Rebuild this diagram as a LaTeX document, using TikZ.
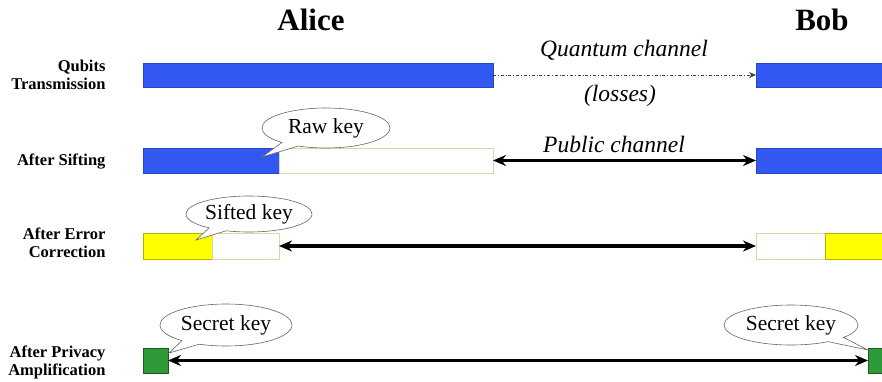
\documentclass[tikz,border=0pt]{standalone}
\usepackage{fontspec}
\setmainfont{LiberationSerif}[Extension=.ttf,UprightFont=*-Regular,BoldFont=*-Bold,ItalicFont=*-Italic,BoldItalicFont=*-BoldItalic]
\usetikzlibrary{shapes.callouts,arrows.meta}

\definecolor{keyblue}{HTML}{3358F2}
\definecolor{keyyellow}{HTML}{FFFF00}
\definecolor{keygreen}{HTML}{2E9A3A}
\definecolor{emptyedge}{HTML}{D2DBA6}

\begin{document}
\begin{tikzpicture}[x=1pt,y=-1pt,
  block/.style={anchor=north west,inner sep=0pt,outer sep=0pt,line width=0.7pt},
  bluebar/.style={block,fill=keyblue,draw=keyblue!80!black,minimum height=24pt},
  emptybar/.style={block,fill=white,draw=emptyedge,minimum height=#1},
  yellowbar/.style={block,fill=keyyellow,draw=keyyellow!70!black,minimum height=26pt},
  greenbox/.style={block,fill=keygreen,draw=keygreen!60!black,minimum width=25pt,minimum height=25pt},
  public/.style={line width=3.2pt,{Stealth[length=13pt,width=11pt]}-{Stealth[length=13pt,width=11pt]}},
  quantum/.style={line width=0.7pt,draw=black!75,dash dot,-{Stealth[length=7pt,width=6pt]}},
  rowlabel/.style={anchor=east,align=right,font=\fontsize{16.5}{18}\selectfont\bfseries},
  party/.style={font=\fontsize{31}{36}\selectfont\bfseries},
  chan/.style={font=\fontsize{23.5}{26}\selectfont\itshape},
  keycallout/.style={ellipse callout,draw=black!60,fill=white,line width=0.6pt,
    inner sep=0pt,font=\fontsize{21.5}{24}\selectfont,callout pointer arc=18}]

\useasboundingbox (0,0) rectangle (882,381);
\clip (0,0) rectangle (882,381);

% party names
\node[party] (alice) at (311,20) {Alice};
\node[party] (bob) at (822,20) {Bob};

% stage labels
\node[rowlabel] (l1) at (109,75) {Qubits\\Transmission};
\node[rowlabel] (l2) at (109,162) {After Sifting};
\node[rowlabel] (l3) at (109,243) {After Error\\Correction};
\node[rowlabel] (l4) at (109,362) {After Privacy\\Amplification};

% qubit transmission
\node[bluebar,minimum width=350pt] (a1) at (143,63) {};
\node[bluebar,minimum width=140pt] (b1) at (756,63) {};
\draw[quantum] (a1.east) -- (b1.west);
\node[chan] (qc) at (624,50) {Quantum channel};
\node[chan] (ql) at (620,96) {(losses)};

% sifting
\node[bluebar,minimum width=136pt,minimum height=25pt] (a2k) at (143,148) {};
\node[emptybar=25pt,minimum width=214pt] (a2) at (279,148) {};
\node[bluebar,minimum width=140pt,minimum height=25pt] (b2) at (756,148) {};
\draw[public] (a2.east) -- (b2.west);
\node[chan] (pc) at (614,144) {Public channel};

% error correction
\node[yellowbar,minimum width=69pt] (a3k) at (143,233) {};
\node[emptybar=26pt,minimum width=67pt] (a3) at (212,233) {};
\node[emptybar=26pt,minimum width=69pt] (b3) at (756,233) {};
\node[yellowbar,minimum width=80pt] (b3k) at (825,233) {};
\draw[public] (a3.east) -- (b3.west);

% privacy amplification
\node[greenbox] (a4) at (143,348) {};
\node[greenbox] (b4) at (868,348) {};
\draw[public] (a4.east) -- (b4.west);

% key callouts
\node[keycallout,minimum width=128pt,minimum height=40pt,
  callout absolute pointer={(262,157)}] (raw) at (326,128) {Raw key};
\node[keycallout,minimum width=126pt,minimum height=36pt,
  callout absolute pointer={(196,240)}] (sifted) at (249,214) {Sifted key};
\node[keycallout,minimum width=132pt,minimum height=42pt,
  callout absolute pointer={(169,353)}] (secA) at (226,325) {Secret key};
\node[keycallout,minimum width=134pt,minimum height=40pt,
  callout absolute pointer={(868,350)}] (secB) at (791,325) {Secret key};

\end{tikzpicture}
\end{document}
